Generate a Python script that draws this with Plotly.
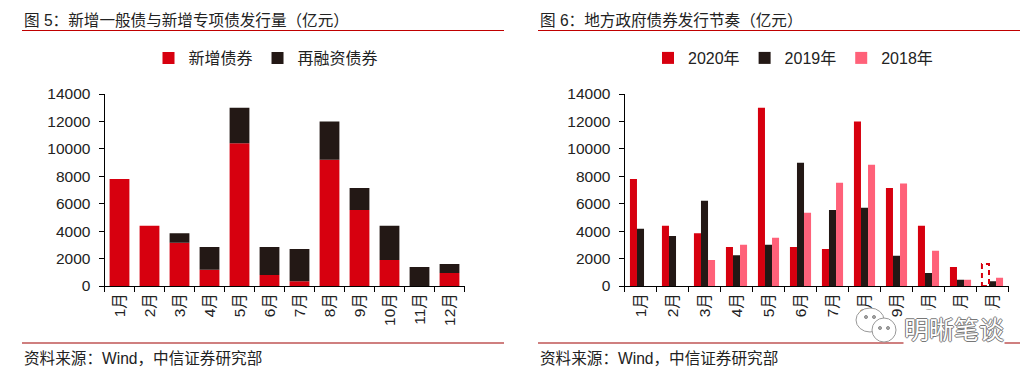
import plotly.graph_objects as go

W, H = 1036, 372
months = ["1月","2月","3月","4月","5月","6月","7月","8月","9月","10月","11月","12月"]
new_bonds = [7800,4400,3150,1180,10400,800,350,9200,5550,1900,0,950]
refi_bonds = [0,0,700,1670,2600,2050,2350,2800,1600,2500,1380,650]
y2020 = [7800,4400,3850,2850,13000,2850,2700,12000,7150,4400,1380,1600]
y2019 = [4170,3650,6220,2250,3000,8980,5550,5700,2200,950,450,350]
y2018 = [0,0,1900,3000,3520,5350,7530,8850,7470,2570,450,600]
yticks = [0,2000,4000,6000,8000,10000,12000,14000]

RED, DARK, PINK = "#D7000F", "#231815", "#FF6179"
FONT = "Liberation Sans, Arial, Noto Sans CJK SC"
TXT = "#222222"
px = lambda v: v / W
py = lambda v: 1 - v / H

fig = go.Figure()
fig.add_bar(x=months, y=new_bonds, name="新增债券", marker_color=RED, xaxis="x", yaxis="y", legend="legend",
            offsetgroup="s", alignmentgroup="s", marker_line_width=0)
fig.add_bar(x=months, y=refi_bonds, base=new_bonds, name="再融资债券", marker_color=DARK, xaxis="x", yaxis="y", legend="legend",
            offsetgroup="s", alignmentgroup="s", marker_line_width=0)

colors2020 = [RED]*11 + ["rgba(0,0,0,0)"]
L = dict(type="category", categoryorder="array", categoryarray=months, range=[-0.5, 11.5], tickson="boundaries",
         ticks="outside", ticklen=5, tickcolor="#000", linecolor="#000", linewidth=1, showline=True, showgrid=False,
         tickangle=-90, tickfont=dict(family=FONT, size=15.5, color=TXT))
Y = dict(range=[0, 14000], tickvals=yticks, tickformat="d", ticks="outside", ticklen=5, tickcolor="#000", linecolor="#000", linewidth=1,
         showline=True, showgrid=False, zeroline=False, tickfont=dict(family=FONT, size=15.5, color=TXT), ticklabelstandoff=5)

for name, vals, col in [("2020年", y2020, RED), ("2019年", y2019, DARK), ("2018年", y2018, PINK)]:
    fig.add_bar(x=months, y=vals, name=name, marker_color=col, xaxis="x2", yaxis="y2", legend="legend2", marker_line_width=0)
fig.data[2].marker.color = colors2020

fig.update_layout(
    width=W, height=H, margin=dict(l=0, r=0, t=0, b=0, autoexpand=False), paper_bgcolor="white", plot_bgcolor="white",
    barmode="group", bargap=0.34, bargroupgap=0, font=dict(family=FONT, color=TXT),
    xaxis=dict(L, domain=[px(104.5), px(464.5)], anchor="y"),
    yaxis=dict(Y, domain=[py(286), py(94)], anchor="x"),
    xaxis2=dict(L, domain=[px(624.5), px(1008.5)], anchor="y2"),
    yaxis2=dict(Y, domain=[py(286), py(94)], anchor="x2"),
    legend=dict(orientation="h", x=px(266), xanchor="center", y=py(58), yanchor="middle", font=dict(family=FONT, size=16, color=TXT),
                itemwidth=30, bgcolor="rgba(0,0,0,0)", traceorder="normal"),
    legend2=dict(orientation="h", x=px(793), xanchor="center", y=py(58), yanchor="middle", font=dict(family=FONT, size=16, color=TXT),
                 itemwidth=30, bgcolor="rgba(0,0,0,0)", traceorder="normal"),
)

def text(x, y, s, size=15.6, **kw):
    fig.add_annotation(xref="paper", yref="paper", x=px(x), y=py(y), text=s, showarrow=False, xanchor="left", yanchor="middle",
                       font=dict(family=FONT, size=size, color=TXT), **kw)

text(22, 21, "图 5：新增一般债与新增专项债发行量（亿元）")
text(538, 21, "图 6：地方政府债券发行节奏（亿元）")
text(22, 358, "资料来源：Wind，中信证券研究部")
text(538, 358, "资料来源：Wind，中信证券研究部")

for x0, x1 in [(22, 504), (538, 1020)]:
    fig.add_shape(type="line", xref="paper", yref="paper", x0=px(x0), x1=px(x1), y0=py(30.5), y1=py(30.5), line=dict(color="#C00000", width=1.2))
    fig.add_shape(type="line", xref="paper", yref="paper", x0=px(x0), x1=px(x1), y0=py(343), y1=py(343), line=dict(color="#A00000", width=1.2))

# December 2020: dashed outline, drawn on the data axes from the series value
bar_w = (1 - 0.34) / 3
fig.add_shape(type="rect", xref="x2", yref="y2", x0=11 - 1.5*bar_w, x1=11 - 0.5*bar_w, y0=0, y1=y2020[11],
              line=dict(color=RED, width=2, dash="5px,4px"), fillcolor="rgba(0,0,0,0)", layer="above")

# watermark
fig.add_annotation(xref="paper", yref="paper", x=px(903), y=py(328), xanchor="left", yanchor="middle", showarrow=False,
                   text="明晰笔谈", bgcolor="white", borderpad=0,
                   font=dict(family="Noto Sans CJK SC", size=25, color="white",
                             shadow="1px 0 #777, -1px 0 #777, 0 1px #777, 0 -1px #777"))
for x0, y0, x1, y1 in [(856, 308, 884, 332), (872, 318, 896, 342)]:
    fig.add_shape(type="circle", xref="paper", yref="paper", x0=px(x0), x1=px(x1), y0=py(y1), y1=py(y0),
                  line=dict(color="#999", width=1), fillcolor="white", layer="above")
for cx, cy in [(866, 317), (874, 317), (880, 328), (888, 328)]:
    fig.add_shape(type="circle", xref="paper", yref="paper", x0=px(cx-1.5), x1=px(cx+1.5), y0=py(cy+1.5), y1=py(cy-1.5),
                  line=dict(color="#888", width=1), fillcolor="#aaa", layer="above")

fig.write_html("out.html", config=dict(displayModeBar=False), post_script="document.body.style.margin='0';")
